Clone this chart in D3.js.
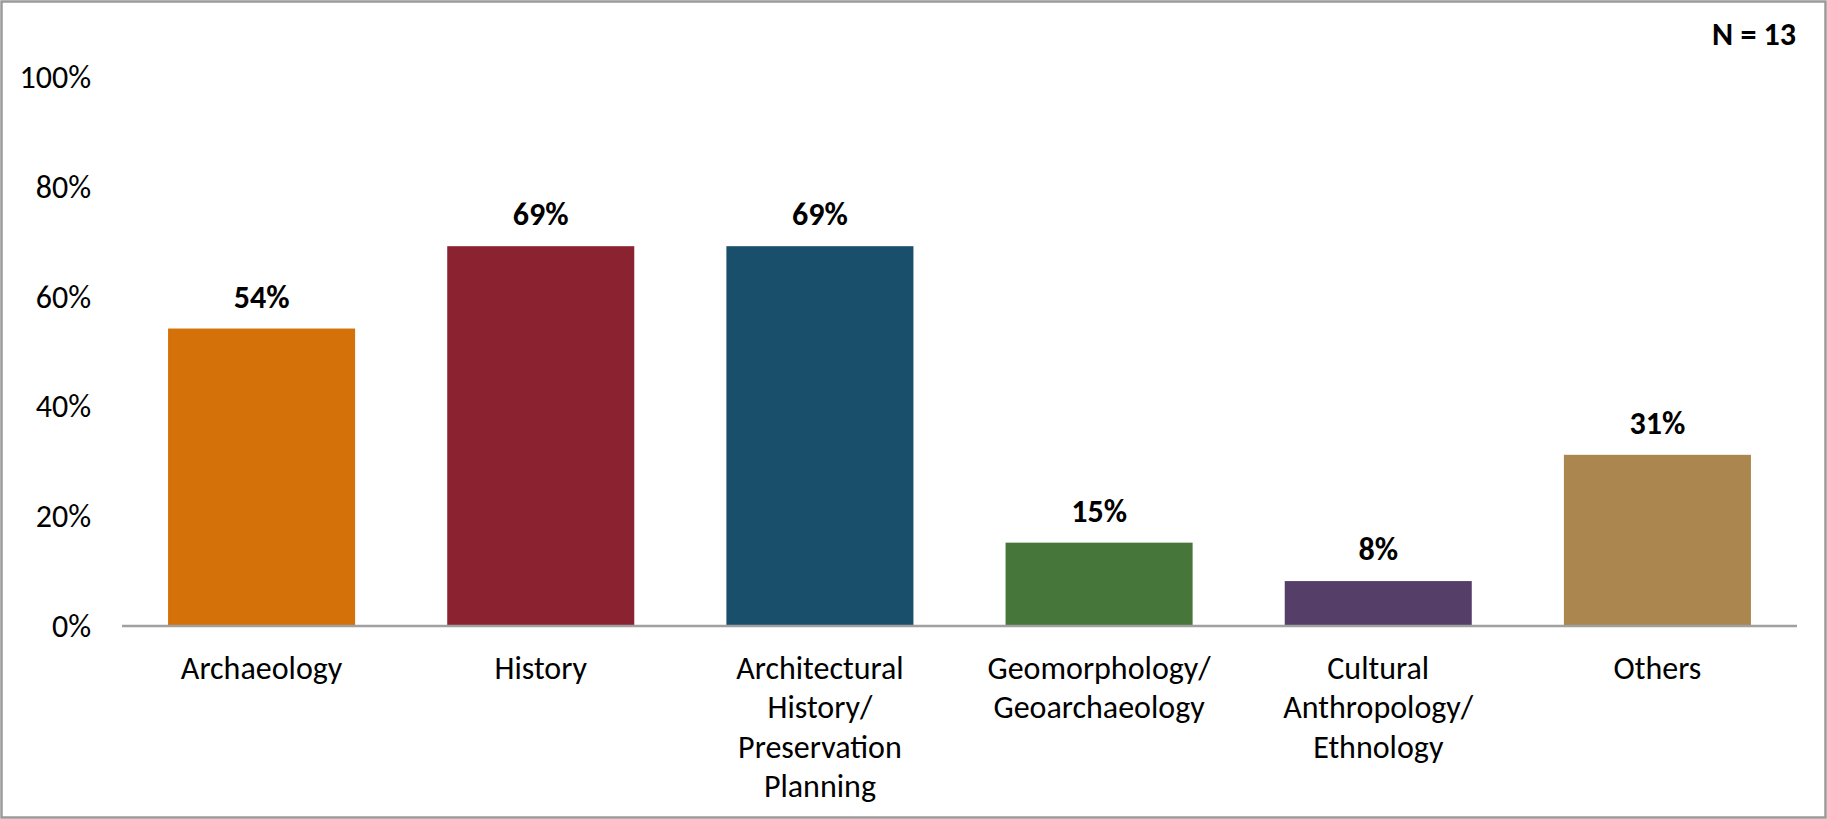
<!DOCTYPE html>
<html>
<head>
<meta charset="utf-8">
<script src="https://cdn.jsdelivr.net/npm/d3@7"></script>
<style>
  html, body { margin: 0; padding: 0; background: #fff; }
  svg { display: block; }
  text { font-family: Carlito, Lato, "Open Sans", sans-serif; fill: #000; }
</style>
</head>
<body>
<svg id="chart" width="1827" height="819"></svg>
<script>
const categories = [
  ["Archaeology"],
  ["History"],
  ["Architectural", "History/", "Preservation", "Planning"],
  ["Geomorphology/", "Geoarchaeology"],
  ["Cultural", "Anthropology/", "Ethnology"],
  ["Others"]
];
const values = [54, 69, 69, 15, 8, 31];
const colors = ["#D47108", "#8B222F", "#1A4F6C", "#46763A", "#553F69", "#AB874F"];
const yTicks = [0, 20, 40, 60, 80, 100];
const nLabel = "N = 13";

const W = 1827, H = 819;
const FS = 32;
const svg = d3.select("#chart");

// outer border
svg.append("rect")
  .attr("x", 1.5).attr("y", 1.5)
  .attr("width", W - 3).attr("height", H - 3)
  .attr("fill", "#fff").attr("stroke", "#9a9a9a").attr("stroke-width", 2.5);

const x = d3.scaleBand()
  .domain(d3.range(categories.length))
  .range([122, 1797])
  .paddingInner(0.33).paddingOuter(0.165);

const y = d3.scaleLinear().domain([0, 100]).range([625, 76]);

// bars
svg.append("g").selectAll("rect")
  .data(values)
  .join("rect")
  .attr("x", (d, i) => x(i))
  .attr("y", d => y(d))
  .attr("width", x.bandwidth())
  .attr("height", d => y(0) - y(d))
  .attr("fill", (d, i) => colors[i]);

// y axis labels
const yAxis = d3.axisLeft(y).tickValues(yTicks).tickFormat(d => d + "%").tickSize(0).tickPadding(0);
const gy = svg.append("g").attr("transform", "translate(91,0)").call(yAxis);
gy.select(".domain").remove();
gy.selectAll("text")
  .attr("font-size", FS)
  .attr("font-family", "Carlito, Lato, sans-serif")
  .attr("fill", "#000")
  .attr("dy", "0.36em");

// x axis baseline
svg.append("line")
  .attr("x1", 122).attr("x2", 1797)
  .attr("y1", y(0) + 1).attr("y2", y(0) + 1)
  .attr("stroke", "#a0a0a0").attr("stroke-width", 2.5);

// category labels
const catG = svg.append("g").selectAll("text")
  .data(categories)
  .join("text")
  .attr("text-anchor", "middle")
  .attr("font-size", FS)
  .attr("x", (d, i) => x(i) + x.bandwidth() / 2)
  .attr("y", 667);
catG.selectAll("tspan")
  .data(d => d)
  .join("tspan")
  .attr("x", function () { return d3.select(this.parentNode).attr("x"); })
  .attr("dy", (d, j) => j === 0 ? "0.36em" : "39.5px")
  .text(d => d);

// value labels
svg.append("g").selectAll("text")
  .data(values)
  .join("text")
  .attr("text-anchor", "middle")
  .attr("font-size", FS)
  .attr("font-weight", "bold")
  .attr("x", (d, i) => x(i) + x.bandwidth() / 2)
  .attr("y", d => y(d) - 21)
  .text(d => d + "%");

// N label
svg.append("text")
  .attr("x", 1796).attr("y", 33)
  .attr("dy", "0.36em")
  .attr("text-anchor", "end")
  .attr("font-size", FS)
  .attr("font-weight", "bold")
  .text(nLabel);
</script>
</body>
</html>
